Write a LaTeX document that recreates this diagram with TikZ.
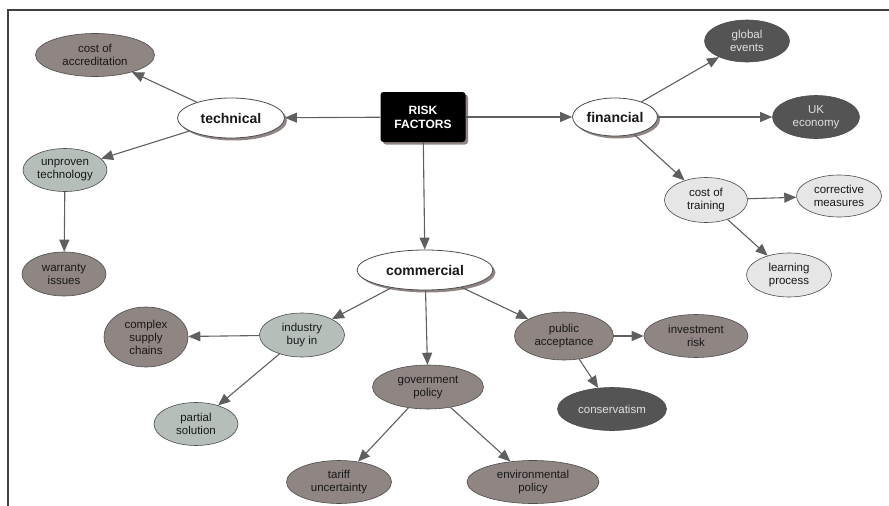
\documentclass[tikz,border=0pt]{standalone}
\usepackage{fontspec}
\setmainfont{Liberation Sans}
\usetikzlibrary{arrows.meta,shapes.geometric,shadows}

\definecolor{taupe}{RGB}{143,133,131}
\definecolor{sage}{RGB}{181,190,185}
\definecolor{slate}{RGB}{84,84,84}
\definecolor{mist}{RGB}{230,230,230}
\definecolor{linegray}{RGB}{95,95,95}

\tikzset{
  factor/.style={ellipse, draw=black!70, line width=0.6pt, inner sep=0pt,
    align=center, text=black!90, font=\fontsize{11.5}{13}\selectfont},
  area/.style={factor, fill=white, line width=0.8pt,
    font=\bfseries\fontsize{14}{16}\selectfont,
    drop shadow={shadow xshift=2.5pt, shadow yshift=-2.5pt, fill=taupe, opacity=1}},
  brownish/.style={factor, fill=taupe},
  greenish/.style={factor, fill=sage},
  darkish/.style={factor, fill=slate, text=black!12},
  lightish/.style={factor, fill=mist},
  link/.style={draw=linegray, line width=1.1pt, -{Triangle[length=12pt,width=10pt]}},
}

\begin{document}
\begin{tikzpicture}[x=1pt, y=-1pt]
    \useasboundingbox (0,0) rectangle (889,506);
    \draw[line width=1.3pt, black!75] (8,506) -- (8,10) -- (889,10);

    % centre
    \node[rectangle, rounded corners=3pt, fill=black, text=white, align=center,
      minimum width=85pt, minimum height=50pt, inner sep=0pt,
      font=\bfseries\fontsize{12}{14}\selectfont,
      drop shadow={shadow xshift=2.5pt, shadow yshift=-2.5pt, fill=taupe, opacity=1}]
      (rf) at (423,117) {RISK\\FACTORS};

    % technical branch
    \node[area, minimum width=107pt, minimum height=40pt] (tech) at (231,118) {technical};
    \node[brownish, minimum width=119pt, minimum height=43pt] (accr) at (95,55) {cost of\\accreditation};
    \node[greenish, minimum width=84pt, minimum height=43pt] (unpr) at (65,170) {unproven\\technology};
    \node[brownish, minimum width=84pt, minimum height=44pt] (warr) at (64,274) {warranty\\issues};
    \draw[link] (rf) -- (tech);
    \draw[link] (tech) -- (accr);
    \draw[link] (tech) -- (unpr);
    \draw[link] (unpr) -- (warr);

    % financial branch
    \node[area, minimum width=85pt, minimum height=38pt] (fin) at (615,117) {financial};
    \node[darkish, minimum width=85pt, minimum height=42pt] (glob) at (747,41) {global\\events};
    \node[darkish, minimum width=87pt, minimum height=43pt] (ukec) at (816,117) {UK\\economy};
    \node[lightish, minimum width=83pt, minimum height=45pt] (train) at (706,200) {cost of\\training};
    \node[lightish, minimum width=85pt, minimum height=42pt] (corr) at (839,196) {corrective\\measures};
    \node[lightish, minimum width=85pt, minimum height=44pt] (learn) at (789,275) {learning\\process};
    \draw[link] (rf) -- (fin);
    \draw[link] (fin) -- (glob);
    \draw[link] (fin) -- (ukec);
    \draw[link] (fin) -- (train);
    \draw[link] (train) -- (corr);
    \draw[link] (train) -- (learn);

    % commercial branch
    \node[area, minimum width=136pt, minimum height=40pt] (comm) at (425,270) {commercial};
    \node[greenish, minimum width=85pt, minimum height=44pt] (ind) at (302,335) {industry\\buy in};
    \node[brownish, minimum width=84pt, minimum height=60pt] (supp) at (146,337) {complex\\supply\\chains};
    \node[greenish, minimum width=84pt, minimum height=43pt] (part) at (196,424) {partial\\solution};
    \node[brownish, minimum width=111pt, minimum height=44pt] (gov) at (428,387) {government\\policy};
    \node[brownish, minimum width=105pt, minimum height=43pt] (tar) at (339,482) {tariff\\uncertainty};
    \node[brownish, minimum width=132pt, minimum height=43pt] (env) at (533,482) {environmental\\policy};
    \node[brownish, minimum width=99pt, minimum height=48pt] (pub) at (564,336) {public\\acceptance};
    \node[brownish, minimum width=104pt, minimum height=43pt] (inv) at (696,336) {investment\\risk};
    \node[darkish, minimum width=109pt, minimum height=43pt] (cons) at (612,409) {conservatism};
    \draw[link] (rf) -- (comm);
    \draw[link] (comm) -- (ind);
    \draw[link] (comm) -- (gov);
    \draw[link] (comm) -- (pub);
    \draw[link] (ind) -- (supp);
    \draw[link] (ind) -- (part);
    \draw[link] (gov) -- (tar);
    \draw[link] (gov) -- (env);
    \draw[link] (pub) -- (inv);
    \draw[link] (pub) -- (cons);

\end{tikzpicture}
\end{document}
